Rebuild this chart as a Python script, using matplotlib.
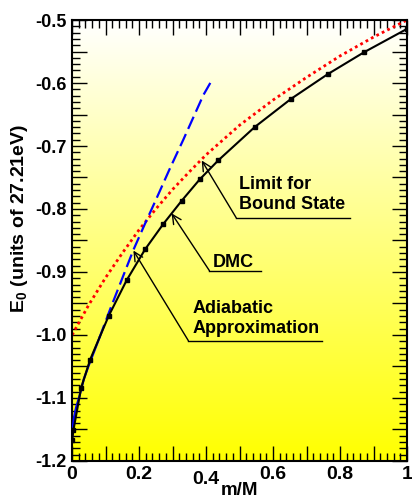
import numpy as np
import matplotlib
matplotlib.use("Agg")
import matplotlib.pyplot as plt
from matplotlib.ticker import FixedLocator, MultipleLocator, FuncFormatter
from matplotlib.transforms import ScaledTranslation

plt.rcParams['font.family'] = ['Liberation Sans', 'DejaVu Sans']
plt.rcParams['font.weight'] = 'bold'
plt.rcParams['mathtext.fontset'] = 'custom'
plt.rcParams['mathtext.rm'] = 'Liberation Sans:bold'
plt.rcParams['mathtext.it'] = 'Liberation Sans:bold'
plt.rcParams['mathtext.bf'] = 'Liberation Sans:bold'

# ---- data ----
# DMC (black, with points)
dmc_x = [0.0, 0.004, 0.027, 0.054, 0.109, 0.163, 0.218, 0.272, 0.327, 0.381,
         0.436, 0.545, 0.654, 0.763, 0.872, 1.0]
dmc_y = [-1.167, -1.151, -1.084, -1.039, -0.970, -0.913, -0.864, -0.824, -0.787,
         -0.753, -0.723, -0.670, -0.625, -0.586, -0.551, -0.514]

# Limit for bound state (red dotted)
lim_x = [0.0, 0.05, 0.1, 0.15, 0.2, 0.25, 0.3, 0.35, 0.4, 0.5, 0.6, 0.7, 0.8, 0.9, 1.0]
lim_y = [-1.0, -0.952, -0.909, -0.870, -0.833, -0.800, -0.769, -0.741, -0.714,
         -0.667, -0.627, -0.591, -0.557, -0.527, -0.5]

# Adiabatic approximation (blue; solid near 0, dashed after)
adi_x = [0.0, 0.002, 0.006, 0.012, 0.022, 0.035, 0.052, 0.082, 0.113, 0.141,
         0.183, 0.218, 0.248, 0.29, 0.332, 0.392, 0.42]
adi_y = [-1.167, -1.147, -1.130, -1.115, -1.097, -1.070, -1.045, -1.004, -0.960,
         -0.922, -0.865, -0.823, -0.788, -0.738, -0.690, -0.619, -0.593]
adi_solid_n = 8

# annotations: label, arrow tip, elbow (start of underline), underline end, text anchor
notes = [
    ("Limit for\nBound State", (0.387, -0.723), (0.490, -0.814), 0.830, (0.497, -0.800)),
    ("DMC", (0.297, -0.807), (0.410, -0.898), 0.564, (0.420, -0.892)),
    ("Adiabatic\nApproximation", (0.183, -0.866), (0.347, -1.009), 0.746, (0.361, -0.997)),
]

fig = plt.figure(figsize=(4.12, 5.01), dpi=100)
ax = fig.add_axes([0.175, 0.080, 0.813, 0.880])

ax.set_xlim(0, 1)
ax.set_ylim(-1.2, -0.5)

# white -> yellow vertical gradient
grad = np.linspace(0, 1, 256).reshape(-1, 1)
img = np.zeros((256, 1, 3))
img[..., 0] = 1.0
img[..., 1] = 1.0
img[..., 2] = grad
ax.imshow(img, extent=[0, 1, -1.2, -0.5], aspect='auto', origin='lower', zorder=0)

ax.plot(lim_x, lim_y, color='#ff0000', lw=2.0, linestyle=(0, (1, 1.2)), zorder=2)
ax.plot(adi_x[adi_solid_n - 1:], adi_y[adi_solid_n - 1:], color='#0000ff', lw=1.6,
        linestyle=(0, (6, 2.5)), zorder=3)
ax.plot(adi_x[:adi_solid_n], adi_y[:adi_solid_n], color='#0000ff', lw=1.6, zorder=3)
ax.plot(dmc_x, dmc_y, color='black', lw=1.5, marker='s', ms=2.5, zorder=4)

for label, tip, elbow, uend, tpos in notes:
    ax.annotate('', xy=tip, xytext=elbow,
                arrowprops=dict(arrowstyle='->', lw=1.0, color='black',
                                shrinkA=0, shrinkB=0, mutation_scale=16), zorder=5)
    ax.plot([elbow[0], uend], [elbow[1], elbow[1]], color='black', lw=1.0, zorder=5)
    ax.text(tpos[0], tpos[1], label, fontsize=13, fontweight='bold',
            ha='left', va='baseline', linespacing=1.25, zorder=6)

# ticks
x_major = [i / 10 for i in range(11)]
ax.xaxis.set_major_locator(FixedLocator(x_major))
ax.xaxis.set_minor_locator(MultipleLocator(0.02))
ax.xaxis.set_major_formatter(FuncFormatter(
    lambda v, p: ('%g' % round(v, 1)) if round(v * 10) % 2 == 0 else ''))
ax.yaxis.set_major_locator(MultipleLocator(0.05))
ax.yaxis.set_minor_locator(MultipleLocator(0.01))
ax.yaxis.set_major_formatter(FuncFormatter(
    lambda v, p: ('%.1f' % v) if abs(round(v * 20)) % 2 == 0 else ''))

ax.tick_params(which='both', direction='in', top=True, right=True, width=1.0)
ax.tick_params(which='major', length=11)
ax.tick_params(which='minor', length=5.5)
ax.tick_params(axis='x', labelsize=14, pad=4)
ax.tick_params(axis='y', labelsize=13, pad=4)
for lbl in ax.get_xticklabels() + ax.get_yticklabels():
    lbl.set_fontweight('bold')
for s in ax.spines.values():
    s.set_linewidth(1.5)

# the 0.4 label sits a little lower in the original
t04 = ax.xaxis.get_major_ticks()[4].label1
t04.set_transform(t04.get_transform() + ScaledTranslation(0, -3 / 72, fig.dpi_scale_trans))

ax.set_xlabel('m/M', fontsize=13.5, fontweight='bold')
ax.set_ylabel(r'E$_0$ (units of 27.21eV)', fontsize=14, fontweight='bold')
ax.xaxis.set_label_coords(0.5, -0.047)
ax.yaxis.set_label_coords(-0.125, 0.55)

fig.savefig('out.png', dpi=100)
